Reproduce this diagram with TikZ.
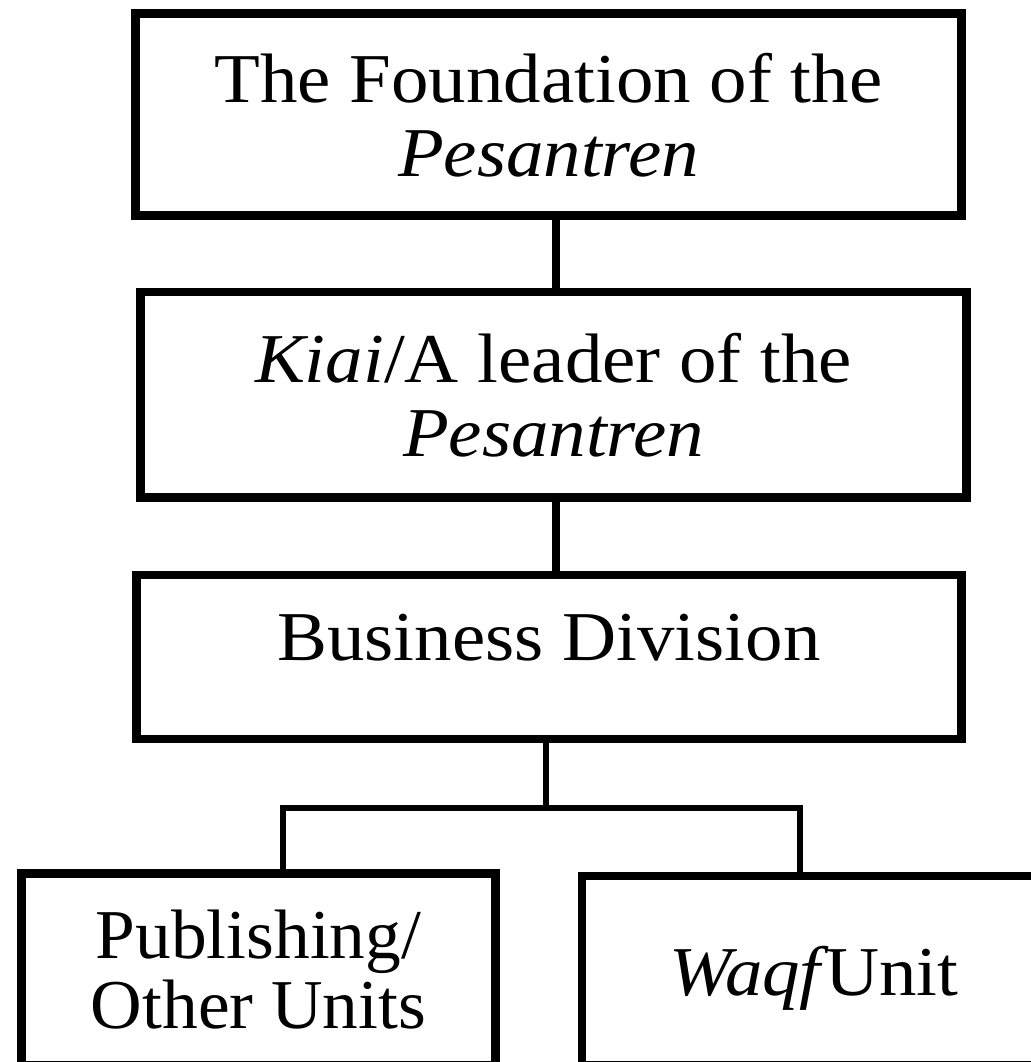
\documentclass[tikz,border=0pt]{standalone}
\usepackage{fontspec}
\setmainfont{Liberation Serif}[FakeStretch=1.07]

\tikzset{
	unitbox/.style={draw, line width=4.25pt, align=center, text depth=0pt, inner sep=0pt, font=\fontsize{35}{37}\selectfont},
	linkline/.style={line width=4.25pt},
	forkline/.style={line width=3pt},
}

\begin{document}
\begin{tikzpicture}[x=0.5pt,y=-0.5pt]
		\useasboundingbox (0,0) rectangle (1031,1062);
		\clip (0,0) rectangle (1031,1062);
		%Cajas
		\node[unitbox, minimum width=413pt, minimum height=101pt] (found) at (548.5,114.5) {The Foundation of the\\\textit{Pesantren}};
		\node[unitbox, minimum width=413pt, minimum height=102.75pt] (kiai) at (553.5,394.75) {\textit{Kiai}/A leader of the\\\textit{Pesantren}};
		\node[unitbox, minimum width=412.5pt, minimum height=82pt, text depth=20pt] (biz) at (549,657) {Business Division};
		\node[unitbox, minimum width=237pt, minimum height=95.75pt, font=\fontsize{35}{35}\selectfont\addfontfeature{FakeStretch=1.02}] (publ) at (258.5,969.25) {Publishing/\\Other Units};
		\node[unitbox, minimum width=232pt, minimum height=94.5pt] (waqf) at (814,970.5) {{\itshape Waqf}\hspace{-0.2em} Unit};
		
		%Lineas
		\draw[linkline] ([xshift=3.75pt]found.south) -- ([xshift=3.75pt]found.south |- kiai.north);
		\draw[linkline] ([xshift=1.25pt]kiai.south) -- ([xshift=1.25pt]kiai.south |- biz.north);
		\draw[forkline] ([xshift=-1.75pt]biz.south) -- ++(0,-32.5pt) coordinate (fork);
		\draw[forkline] ([xshift=12.25pt]publ.north) |- (fork) -| ([xshift=-7pt]waqf.north);
	\end{tikzpicture}
\end{document}
